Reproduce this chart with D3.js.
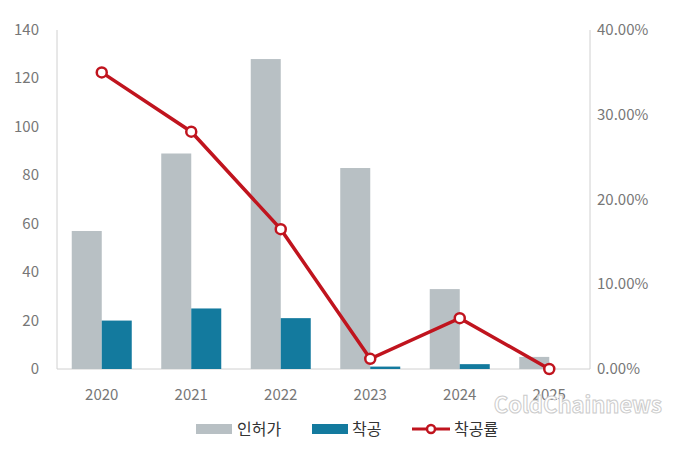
<!DOCTYPE html>
<html><head><meta charset="utf-8">
<script src="https://cdn.jsdelivr.net/npm/d3@7"></script>
<style>body{margin:0;background:#fff}text{font-family:"Noto Sans CJK KR","Noto Sans",sans-serif}</style>
</head><body>
<script>
var years = ['2020', '2021', '2022', '2023', '2024', '2025'];
var permits = [57, 89, 128, 83, 33, 5];
var starts = [20, 25, 21, 1, 2, 0];
var rate = [0.35, 0.28, 0.165, 0.012, 0.06, 0];
var leftTicks = [0, 20, 40, 60, 80, 100, 120, 140];
var rightTicks = [0, 0.1, 0.2, 0.3, 0.4];

var W = 680, H = 451;
var m = {l: 57, r: 86, t: 30, b: 82};
var svg = d3.select('body').append('svg').attr('width', W).attr('height', H);

var x = d3.scaleBand().domain(years).range([m.l, W - m.r]);
var y = d3.scaleLinear().domain([0, 140]).range([H - m.b, m.t]);
var y2 = d3.scaleLinear().domain([0, 0.4]).range([H - m.b, m.t]);
var bw = 30;
var rx = 590;

// axes
svg.append('line').attr('x1', m.l).attr('x2', m.l).attr('y1', m.t).attr('y2', H - m.b).attr('stroke', '#d0d0d0');
svg.append('line').attr('x1', rx).attr('x2', rx).attr('y1', m.t).attr('y2', H - m.b).attr('stroke', '#d0d0d0');
svg.append('line').attr('x1', m.l).attr('x2', rx).attr('y1', H - m.b).attr('y2', H - m.b).attr('stroke', '#d0d0d0');

svg.selectAll('.lt').data(leftTicks).enter().append('text')
  .attr('x', 39).attr('y', function(d) { return y(d) + 5; })
  .attr('text-anchor', 'end').attr('font-size', 15).attr('fill', '#777')
  .text(function(d) { return d; });
svg.selectAll('.rt').data(rightTicks).enter().append('text')
  .attr('x', 597).attr('y', function(d) { return y2(d) + 5; })
  .attr('font-size', 15).attr('fill', '#777')
  .text(function(d) { return (d * 100).toFixed(2) + '%'; });
svg.selectAll('.xt').data(years).enter().append('text')
  .attr('x', function(d) { return x(d) + x.bandwidth() / 2; }).attr('y', 400)
  .attr('text-anchor', 'middle').attr('font-size', 15).attr('fill', '#777')
  .text(function(d) { return d; });

// bars
svg.selectAll('.p').data(permits).enter().append('rect')
  .attr('x', function(d, i) { return x(years[i]) + x.bandwidth() / 2 - bw; })
  .attr('y', function(d) { return y(d); }).attr('width', bw)
  .attr('height', function(d) { return y(0) - y(d); }).attr('fill', '#b8c0c4');
svg.selectAll('.s').data(starts).enter().append('rect')
  .attr('x', function(d, i) { return x(years[i]) + x.bandwidth() / 2; })
  .attr('y', function(d) { return y(d); }).attr('width', bw)
  .attr('height', function(d) { return y(0) - y(d); }).attr('fill', '#137a9e');

// line
var line = d3.line()
  .x(function(d, i) { return x(years[i]) + x.bandwidth() / 2; })
  .y(function(d) { return y2(d); });
svg.append('path').datum(rate).attr('d', line).attr('fill', 'none')
  .attr('stroke', '#c0141e').attr('stroke-width', 3.5);
svg.selectAll('.pt').data(rate).enter().append('circle')
  .attr('cx', function(d, i) { return x(years[i]) + x.bandwidth() / 2; })
  .attr('cy', function(d) { return y2(d); }).attr('r', 5)
  .attr('fill', '#fff').attr('stroke', '#c0141e').attr('stroke-width', 2.5);

// watermark
svg.append('text').attr('x', 662).attr('y', 413).attr('text-anchor', 'end')
  .attr('font-size', 22).attr('font-weight', 'bold').attr('fill', '#fff')
  .attr('stroke', '#ccc').attr('stroke-width', 1).text('ColdChainnews');

// legend
var lg = svg.append('g').attr('transform', 'translate(0,429)');
lg.append('rect').attr('x', 196).attr('y', -5).attr('width', 36).attr('height', 10).attr('fill', '#b8c0c4');
lg.append('text').attr('x', 237).attr('y', 6).attr('font-size', 16).attr('fill', '#333').text('인허가');
lg.append('rect').attr('x', 312).attr('y', -5).attr('width', 36).attr('height', 10).attr('fill', '#137a9e');
lg.append('text').attr('x', 352).attr('y', 6).attr('font-size', 16).attr('fill', '#333').text('착공');
lg.append('line').attr('x1', 412).attr('x2', 450).attr('y1', 0).attr('y2', 0).attr('stroke', '#c0141e').attr('stroke-width', 3);
lg.append('circle').attr('cx', 431).attr('cy', 0).attr('r', 4).attr('fill', '#fff').attr('stroke', '#c0141e').attr('stroke-width', 2.5);
lg.append('text').attr('x', 454).attr('y', 6).attr('font-size', 16).attr('fill', '#333').text('착공률');
</script>
</body></html>
